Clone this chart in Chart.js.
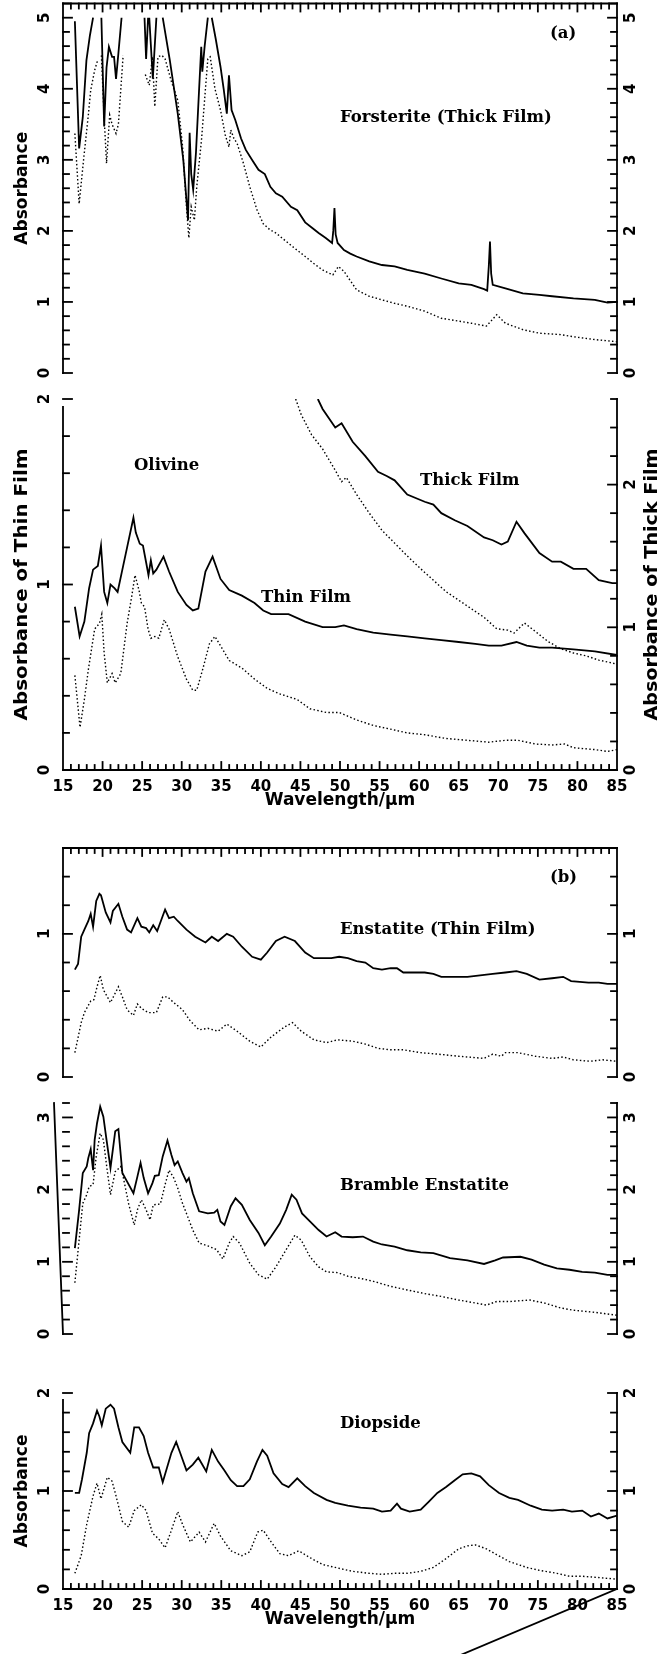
<!DOCTYPE html>
<html><head><meta charset="utf-8">
<script src="https://cdn.jsdelivr.net/npm/chart.js@4.4.1/dist/chart.umd.min.js"></script>
<style>
html,body{margin:0;padding:0;background:#fff;width:665px;height:1654px;overflow:hidden;position:relative}
.p{position:absolute;left:0;width:665px}
canvas{display:block}
</style></head><body>
<div class="p" style="top:0px;height:395px"><canvas id="c1" width="665" height="395"></canvas></div>
<div class="p" style="top:395px;height:440px"><canvas id="c2" width="665" height="440"></canvas></div>
<div class="p" style="top:835px;height:250px"><canvas id="c3" width="665" height="250"></canvas></div>
<div class="p" style="top:1085px;height:260px"><canvas id="c4" width="665" height="260"></canvas></div>
<div class="p" style="top:1345px;height:309px"><canvas id="c5" width="665" height="309"></canvas></div>
<script>
// ---------- DATA ----------
const xTickLabels = [15,20,25,30,35,40,45,50,55,60,65,70,75,80,85];

// Panel (a) Forsterite thick film (values above 5 are off-scale -> null)
const forsteriteSolidX = [16.5,17.04,17.5,17.96,18.4,18.8,19.3,19.85,20.2,20.5,20.8,21.2,21.45,21.7,22.0,22.4,23.8,25.3,25.5,25.75,25.82,25.9,26.35,26.8,27.2,27.6,28.5,29.5,30.2,30.8,31.0,31.2,31.45,31.8,32.2,32.47,32.6,32.9,33.3,33.55,33.8,34.3,34.9,35.3,35.7,35.97,36.3,36.77,37.5,38.1,39.0,39.7,40.5,41.2,41.9,42.7,43.8,44.6,45.6,46.5,47.3,48.2,49.0,49.15,49.3,49.45,49.7,50.5,51.3,52.1,53.7,55.3,56.9,58.5,60.7,62.8,65.0,66.6,68.2,68.6,68.8,68.95,69.1,69.3,70.9,73.1,75.2,76.8,79.5,82.2,83.8,85];
const forsteriteSolidY = [4.95,3.16,3.6,4.4,4.75,5.0,null,5.0,3.47,4.3,4.59,4.45,4.45,4.14,4.5,5.0,null,5.0,4.42,5.0,null,5.0,4.14,5.0,null,5.0,4.4,3.65,3.0,2.15,3.38,2.8,2.58,3.1,4.0,4.59,4.24,4.6,5.0,null,5.0,4.7,4.31,4.0,3.65,4.19,3.7,3.56,3.3,3.14,2.98,2.86,2.8,2.62,2.53,2.48,2.34,2.29,2.12,2.04,1.97,1.9,1.83,2.0,2.32,1.95,1.83,1.73,1.68,1.64,1.57,1.52,1.5,1.45,1.4,1.33,1.26,1.24,1.18,1.16,1.5,1.85,1.4,1.24,1.19,1.12,1.10,1.08,1.05,1.03,0.99,1.0];
const forsteriteDottedX = [16.5,17.04,17.6,18.2,18.5,19.0,19.4,19.6,19.85,20.2,20.5,20.9,21.2,21.7,22.0,22.6,24.0,25.4,25.9,26.3,26.6,27.0,27.5,27.9,28.7,29.5,30.1,30.6,30.9,31.2,31.6,31.9,32.5,33.0,33.3,33.6,34.2,34.9,35.5,35.97,36.2,36.6,37.0,37.8,38.6,39.5,40.3,41.1,41.9,43.0,44.0,45.6,46.7,47.8,49.1,49.8,50.5,51.3,52.1,53.7,55.3,56.9,58.5,60.7,62.8,65.0,66.6,68.5,69.8,70.9,73.1,75.2,77.9,79.5,82.2,85];
const forsteriteDottedY = [3.37,2.38,3.0,3.63,3.98,4.26,4.41,null,4.47,3.6,2.95,3.63,3.5,3.37,3.5,4.47,null,4.2,4.05,4.45,3.75,4.45,4.47,4.42,4.1,3.84,3.2,2.34,1.9,2.34,2.15,2.62,3.28,4.0,4.42,4.45,4.0,3.7,3.35,3.18,3.42,3.3,3.23,2.95,2.62,2.3,2.1,2.02,1.97,1.87,1.78,1.64,1.54,1.45,1.38,1.5,1.43,1.3,1.17,1.08,1.03,0.98,0.94,0.87,0.77,0.73,0.70,0.66,0.82,0.70,0.61,0.56,0.54,0.51,0.47,0.44];

// Panel Olivine: thin film (left axis)
const olivineThinSolidX = [16.5,17.1,17.7,18.3,18.8,19.4,19.8,20.2,20.6,21.0,21.5,21.9,22.5,23.1,23.9,24.2,24.7,25.1,25.5,25.8,26.1,26.4,26.8,27.7,28.4,29.5,30.6,31.4,32.1,33.0,33.9,34.9,36.0,37.6,39.2,40.3,41.3,43.5,45.6,47.8,49.4,50.5,52.1,54.2,56.4,58.5,60.7,62.8,65.0,67.1,68.8,70.4,72.3,73.6,75.2,76.8,79.5,82.2,85];
const olivineThinSolidY = [0.88,0.72,0.8,0.98,1.08,1.1,1.21,0.96,0.9,1.0,0.98,0.96,1.08,1.2,1.36,1.28,1.22,1.21,1.12,1.05,1.13,1.06,1.08,1.15,1.07,0.96,0.89,0.86,0.87,1.07,1.15,1.03,0.97,0.94,0.90,0.86,0.84,0.84,0.80,0.77,0.77,0.78,0.76,0.74,0.73,0.72,0.71,0.70,0.69,0.68,0.67,0.67,0.69,0.67,0.66,0.66,0.65,0.64,0.62];
const olivineThinDottedX = [16.5,17.15,17.7,18.2,19.0,19.6,19.9,20.2,20.6,21.2,21.6,22.3,23.1,23.7,24.1,24.6,24.9,25.3,25.75,26.1,26.6,27.1,27.8,28.4,29.5,30.6,31.4,31.9,32.7,33.5,34.2,34.9,36.0,37.6,39.2,40.8,42.4,44.6,46.2,48.3,49.9,52.1,54.2,56.4,58.5,60.7,63.4,66.1,68.8,70.9,72.5,74.7,76.8,78.4,79.5,82.2,83.8,85];
const olivineThinDottedY = [0.51,0.23,0.38,0.54,0.76,0.79,0.84,0.63,0.47,0.52,0.47,0.52,0.79,0.94,1.05,0.97,0.9,0.88,0.76,0.71,0.72,0.71,0.81,0.76,0.61,0.49,0.43,0.43,0.55,0.68,0.72,0.67,0.59,0.55,0.49,0.44,0.41,0.38,0.33,0.31,0.31,0.27,0.24,0.22,0.20,0.19,0.17,0.16,0.15,0.16,0.16,0.14,0.135,0.14,0.12,0.11,0.10,0.11];
// Olivine thick film (right axis)
const olivineThickSolidX = [47.2,47.8,49.4,50.2,51.6,53.2,54.8,55.9,56.9,58.5,60.7,61.8,62.8,64.5,66.1,68.2,69.3,70.4,71.2,72.3,73.3,75.2,76.8,77.9,79.5,81.1,82.7,84.4,85];
const olivineThickSolidY = [2.6,2.53,2.4,2.43,2.3,2.2,2.09,2.06,2.03,1.93,1.88,1.86,1.80,1.75,1.71,1.63,1.61,1.58,1.60,1.74,1.66,1.52,1.46,1.46,1.41,1.41,1.33,1.31,1.31];
const olivineThickDottedX = [44.4,45.1,46.4,47.8,49.4,50.2,50.8,52.1,53.7,55.3,56.9,58.5,60.2,61.8,63.4,65.0,66.6,68.2,69.8,71.2,72.0,73.3,74.7,76.3,77.9,79.5,81.1,82.7,84.4,85];
const olivineThickDottedY = [2.6,2.49,2.35,2.25,2.1,2.02,2.05,1.93,1.80,1.68,1.59,1.50,1.41,1.33,1.25,1.19,1.13,1.07,0.99,0.98,0.96,1.03,0.97,0.90,0.85,0.82,0.80,0.77,0.75,0.74];

// Panel (b) Enstatite thin film
const enstatiteSolidX = [16.5,16.9,17.3,17.7,18.2,18.5,18.8,19.2,19.6,19.8,20.4,21.0,21.3,22.0,22.5,23.1,23.6,24.4,24.9,25.5,25.9,26.4,26.9,27.9,28.4,29.0,29.5,30.6,31.7,33.0,33.8,34.6,35.7,36.5,37.6,38.9,40.0,40.8,41.9,43.0,44.3,45.6,46.7,47.8,48.9,49.9,51.0,52.1,53.2,54.2,55.3,56.4,57.2,58.0,59.1,60.7,61.8,62.8,64.5,66.1,67.7,69.3,70.9,72.3,73.6,75.2,76.8,78.2,79.2,81.4,82.7,83.8,85];
const enstatiteSolidY = [0.75,0.79,0.98,1.03,1.09,1.14,1.05,1.23,1.28,1.27,1.15,1.08,1.16,1.21,1.12,1.03,1.01,1.11,1.05,1.04,1.01,1.06,1.02,1.17,1.11,1.12,1.09,1.03,0.98,0.94,0.98,0.95,1.00,0.98,0.91,0.84,0.82,0.87,0.95,0.98,0.95,0.87,0.83,0.83,0.83,0.84,0.83,0.81,0.80,0.76,0.75,0.76,0.76,0.73,0.73,0.73,0.72,0.70,0.70,0.70,0.71,0.72,0.73,0.74,0.72,0.68,0.69,0.70,0.67,0.66,0.66,0.65,0.65];
const enstatiteDottedX = [16.5,17.3,17.7,18.5,18.9,19.3,19.7,20.1,21.0,22.0,22.5,23.1,23.9,24.4,24.9,25.75,26.8,27.6,28.2,29.0,30.1,31.1,32.2,33.3,34.6,35.7,37.0,38.6,40.0,41.3,43.0,44.0,45.1,46.7,48.3,49.7,51.6,53.2,54.8,56.4,58.0,60.2,62.3,65.0,68.2,69.3,70.4,70.9,72.5,74.7,76.8,78.2,79.5,81.6,83.2,85];
const enstatiteDottedY = [0.17,0.38,0.45,0.53,0.54,0.63,0.71,0.61,0.52,0.63,0.56,0.47,0.43,0.51,0.48,0.45,0.45,0.56,0.56,0.52,0.47,0.39,0.33,0.34,0.32,0.37,0.32,0.25,0.21,0.28,0.35,0.38,0.32,0.26,0.24,0.26,0.25,0.23,0.20,0.19,0.19,0.17,0.16,0.145,0.13,0.16,0.145,0.17,0.17,0.145,0.13,0.14,0.12,0.11,0.12,0.11];

// Bramble Enstatite
const brambleSolidX = [16.5,17.04,17.5,18.0,18.2,18.5,18.8,19.0,19.3,19.7,20.1,20.5,21.0,21.6,22.0,22.5,23.1,23.9,24.4,24.8,25.2,25.75,26.3,26.6,27.1,27.6,28.2,28.7,29.1,29.5,30.1,30.6,30.9,31.4,32.2,33.3,34.1,34.5,34.9,35.4,36.2,36.8,37.6,38.6,39.7,40.5,41.3,42.4,43.2,43.9,44.5,45.2,46.2,47.3,48.3,49.4,50.2,51.6,52.9,54.2,55.3,56.9,58.5,60.2,61.8,63.9,66.1,68.2,69.6,70.6,72.8,74.2,75.8,77.4,79.0,80.6,82.2,83.8,85];
const brambleSolidY = [1.19,1.72,2.23,2.32,2.44,2.56,2.27,2.69,2.92,3.15,3.01,2.69,2.30,2.81,2.84,2.23,2.11,1.95,2.18,2.37,2.16,1.95,2.09,2.19,2.2,2.46,2.68,2.48,2.34,2.39,2.23,2.11,2.16,1.95,1.70,1.67,1.68,1.72,1.56,1.51,1.77,1.88,1.79,1.58,1.40,1.23,1.35,1.53,1.72,1.93,1.86,1.67,1.56,1.44,1.35,1.41,1.35,1.34,1.35,1.28,1.24,1.21,1.16,1.13,1.12,1.05,1.02,0.97,1.02,1.06,1.07,1.03,0.96,0.91,0.89,0.86,0.85,0.82,0.82];
const brambleDottedX = [16.5,17.5,18.0,18.3,18.8,19.2,19.7,20.1,20.5,21.0,21.6,22.3,22.6,23.3,24.0,24.4,24.9,25.5,26.0,26.4,27.3,27.9,28.4,29.0,29.5,30.1,30.6,31.4,32.2,33.3,34.4,35.2,36.0,36.5,37.3,38.6,39.7,40.8,41.9,43.2,44.3,45.1,46.2,47.3,48.3,49.7,51.0,52.6,54.2,56.4,58.5,60.7,62.8,65.0,67.1,68.5,69.8,71.4,74.0,75.8,77.9,79.5,82.2,85];
const brambleDottedY = [0.71,1.81,1.93,2.04,2.07,2.46,2.78,2.69,2.34,1.93,2.25,2.32,2.18,1.8,1.51,1.72,1.86,1.72,1.58,1.79,1.80,2.07,2.27,2.16,2.02,1.81,1.67,1.44,1.26,1.22,1.17,1.04,1.26,1.35,1.26,0.98,0.82,0.76,0.93,1.17,1.37,1.30,1.07,0.93,0.86,0.85,0.80,0.77,0.73,0.66,0.61,0.56,0.52,0.47,0.43,0.40,0.45,0.45,0.47,0.43,0.36,0.33,0.30,0.26];

// Diopside
const diopsideSolidX = [16.5,17.04,17.4,18.0,18.3,18.8,19.3,19.6,19.9,20.4,21.0,21.45,22.0,22.5,23.5,24.0,24.6,25.2,25.75,26.4,27.1,27.6,28.7,29.3,29.8,30.6,31.4,32.1,33.1,33.8,34.6,35.4,36.2,37.0,37.8,38.6,39.5,40.2,40.8,41.6,42.7,43.5,44.6,45.6,46.7,48.3,49.4,51.0,52.6,54.2,55.3,56.4,57.2,57.7,58.8,60.2,61.2,62.3,63.4,64.5,65.5,66.6,67.7,68.8,70.1,71.4,72.5,74.1,75.5,76.8,78.2,79.3,80.6,81.7,82.7,83.8,85];
const diopsideSolidY = [0.98,0.98,1.12,1.39,1.59,1.69,1.82,1.76,1.67,1.84,1.88,1.84,1.65,1.50,1.39,1.65,1.65,1.56,1.39,1.24,1.24,1.09,1.39,1.50,1.39,1.21,1.27,1.34,1.20,1.42,1.30,1.21,1.11,1.05,1.05,1.12,1.30,1.42,1.36,1.18,1.07,1.04,1.13,1.05,0.98,0.91,0.88,0.85,0.83,0.82,0.79,0.80,0.87,0.82,0.79,0.81,0.89,0.98,1.04,1.11,1.17,1.18,1.15,1.06,0.98,0.93,0.91,0.85,0.81,0.80,0.81,0.79,0.80,0.74,0.77,0.72,0.75];
const diopsideDottedX = [16.5,17.3,18.0,18.8,19.3,19.8,20.6,21.2,21.7,22.5,23.3,24.0,24.9,25.5,26.3,27.1,27.9,28.7,29.5,30.1,31.1,32.2,33.0,34.1,34.9,36.2,37.6,38.6,39.6,40.3,41.3,42.4,43.5,44.8,46.2,47.8,49.4,51.6,53.7,55.3,56.9,58.5,60.2,61.8,63.4,65.0,66.1,67.1,68.5,69.8,71.4,73.6,75.2,77.4,79.0,80.6,82.2,85];
const diopsideDottedY = [0.16,0.34,0.66,0.95,1.08,0.92,1.14,1.10,0.95,0.69,0.63,0.80,0.86,0.80,0.57,0.51,0.42,0.60,0.79,0.66,0.48,0.58,0.48,0.67,0.54,0.39,0.34,0.38,0.58,0.60,0.48,0.36,0.34,0.39,0.32,0.25,0.22,0.18,0.16,0.15,0.16,0.16,0.18,0.22,0.31,0.41,0.44,0.45,0.41,0.35,0.28,0.22,0.19,0.16,0.13,0.13,0.12,0.10];

// ---------- RENDERING ----------
Chart.defaults.font.family = '"DejaVu Sans", sans-serif';
Chart.defaults.color = '#000';
const TICK_FONT = {family:'"DejaVu Sans", sans-serif', size:15, weight:'bold'};
const TICK_CSS = 'bold 15px "DejaVu Sans", sans-serif';
const TITLE_FONT = {family:'"DejaVu Sans", sans-serif', size:17, weight:'bold'};
const TITLE_CSS = 'bold 17px "DejaVu Sans", sans-serif';
const NOTE_FONT = 'bold 16.5px "DejaVu Serif", serif';

const pts = (xs, ys) => xs.map((x, i) => ({x, y: ys[i]}));

function solid(xs, ys, axis) {
  return {data: pts(xs, ys), yAxisID: axis || 'y', borderColor:'#000', borderWidth:1.8,
          pointRadius:0, tension:0, fill:false, spanGaps:false};
}
function dotted(xs, ys, axis) {
  return {data: pts(xs, ys), yAxisID: axis || 'y', borderColor:'#000', borderWidth:1.4,
          borderDash:[1.5,2.3], borderCapStyle:'butt', pointRadius:0, tension:0, fill:false, spanGaps:false};
}

const framePlugin = {
  id: 'frame',
  afterDraw(chart, args, o) {
    const {ctx, chartArea: a} = chart;
    const L = a.left, R = a.right, T = a.top, B = a.bottom;
    ctx.save();
    ctx.strokeStyle = '#000';
    ctx.lineWidth = 1.8;
    ctx.lineCap = 'square';
    const seg = (x1, y1, x2, y2) => { ctx.beginPath(); ctx.moveTo(x1, y1); ctx.lineTo(x2, y2); ctx.stroke(); };
    seg(L - (o.leftSlant || 0), T + (o.leftGap || 0), L, B);
    seg(R, T, R, B);
    if (o.top) seg(L, T, R, T);
    if (o.bottom) seg(L, B, R, B);
    ctx.fillStyle = '#000';
    const rotText = (txt, x, y, font, targetLen) => {
      ctx.save(); ctx.font = font; ctx.textAlign = 'center'; ctx.textBaseline = 'middle';
      ctx.translate(x, y); ctx.rotate(-Math.PI / 2);
      if (targetLen) { const w = ctx.measureText(txt).width; if (w > 0) ctx.scale(targetLen / w, 1); }
      ctx.fillText(txt, 0, 0); ctx.restore();
    };
    const yTicks = (scale, x, dir, labelX) => {
      const n = Math.round(scale.max / 0.2 + 1e-6);
      for (let i = 0; i <= n; i++) {
        const py = scale.getPixelForValue(i * 0.2);
        seg(x, py, x + dir * (i % 5 === 0 ? 9 : 6), py);
        if (i % 5 === 0) rotText(String(i / 5), labelX, py, TICK_CSS);
      }
    };
    yTicks(chart.scales.y, L, 1, 45);
    yTicks(chart.scales.yr, R, -1, 631);
    const xs = chart.scales.x;
    for (let v = 16; v <= 84; v++) {
      const px = xs.getPixelForValue(v);
      const len = v % 5 === 0 ? 8 : 5;
      if (o.top) seg(px, T, px, T + len);
      if (o.bottom) seg(px, B, px, B - len);
    }
    if (o.diagonal) seg(R, B, R - 220, B + 220 * 65 / 154);
    // annotations
    ctx.font = NOTE_FONT;
    ctx.textBaseline = 'middle';
    ctx.textAlign = 'left';
    (o.notes || []).forEach(n => ctx.fillText(n.text, n.x, n.y - o.offsetTop));
    if (o.leftTitle) rotText(o.leftTitle, 23, (T + B) / 2, TITLE_CSS, o.titleLen);
    if (o.rightTitle) rotText(o.rightTitle, 653, (T + B) / 2, TITLE_CSS, o.titleLen);
    ctx.restore();
  }
};

function yAxis(pos, max) {
  return {
    type:'linear', position:pos, min:0, max:max,
    afterFit: s => { s.width = pos === 'left' ? 63 : 48; },
    grid:{display:false, drawTicks:false}, border:{display:false},
    ticks:{display:false, stepSize:0.2},
    title:{display:false}
  };
}
function xAxis(show) {
  return {
    type:'linear', position:'bottom', min:15, max:85,
    afterFit: s => { s.height = show ? 60 : 0; },
    grid:{display:false, drawTicks:false}, border:{display:false},
    ticks:{display:show, stepSize:1, autoSkip:false, maxRotation:0, minRotation:0, padding:8,
           font:TICK_FONT, color:'#000',
           callback: v => xTickLabels.includes(v) ? String(v) : ''},
    title: show ? {display:true, text:'Wavelength/\u03bcm', font:TITLE_FONT, color:'#000', padding:{top:0, bottom:19}} : {display:false}
  };
}

function makePanel(id, cfg) {
  new Chart(document.getElementById(id), {
    type:'line',
    data:{datasets: cfg.datasets},
    options:{
      responsive:false, animation:false, events:[],
      layout:{padding:{top:cfg.padTop, bottom:cfg.padBottom, left:0, right:0}},
      plugins:{legend:{display:false}, tooltip:{enabled:false}, frame:cfg.frame},
      scales:{
        x: xAxis(cfg.showX),
        y: yAxis('left', cfg.yMax),
        yr: yAxis('right', cfg.yrMax || cfg.yMax)
      }
    },
    plugins:[framePlugin]
  });
}

makePanel('c1', {
  datasets:[solid(forsteriteSolidX, forsteriteSolidY), dotted(forsteriteDottedX, forsteriteDottedY)],
  padTop:3.5, padBottom:22, showX:false, yMax:5.2,
  frame:{top:true, bottom:false, offsetTop:0, leftTitle:'Absorbance',
         notes:[{text:'(a)', x:550, y:34}, {text:'Forsterite (Thick Film)', x:340, y:118}]}
});
makePanel('c2', {
  datasets:[solid(olivineThinSolidX, olivineThinSolidY), dotted(olivineThinDottedX, olivineThinDottedY),
            solid(olivineThickSolidX, olivineThickSolidY, 'yr'), dotted(olivineThickDottedX, olivineThickDottedY, 'yr')],
  padTop:4, padBottom:5, showX:true, yMax:2, yrMax:2.6,
  frame:{top:false, bottom:true, leftGap:8, offsetTop:395, titleLen:272,
         leftTitle:'Absorbance of Thin Film', rightTitle:'Absorbance of Thick Film',
         notes:[{text:'Olivine', x:134, y:466}, {text:'Thick Film', x:420, y:481}, {text:'Thin Film', x:261, y:598}]}
});
makePanel('c3', {
  datasets:[solid(enstatiteSolidX, enstatiteSolidY), dotted(enstatiteDottedX, enstatiteDottedY)],
  padTop:13, padBottom:8, showX:false, yMax:1.6,
  frame:{top:true, bottom:false, offsetTop:835, notes:[{text:'(b)', x:550, y:878}, {text:'Enstatite (Thin Film)', x:340, y:930}]}
});
makePanel('c4', {
  datasets:[solid(brambleSolidX, brambleSolidY), dotted(brambleDottedX, brambleDottedY)],
  padTop:18, padBottom:11, showX:false, yMax:3.2,
  frame:{top:false, bottom:false, leftSlant:9, offsetTop:1085, notes:[{text:'Bramble Enstatite', x:340, y:1186}]}
});
makePanel('c5', {
  datasets:[solid(diopsideSolidX, diopsideSolidY), dotted(diopsideDottedX, diopsideDottedY)],
  padTop:48, padBottom:5, showX:true, yMax:2,
  frame:{top:false, bottom:true, leftGap:7, diagonal:true, offsetTop:1345, leftTitle:'Absorbance',
         notes:[{text:'Diopside', x:340, y:1424}]}
});
</script>
</body></html>
